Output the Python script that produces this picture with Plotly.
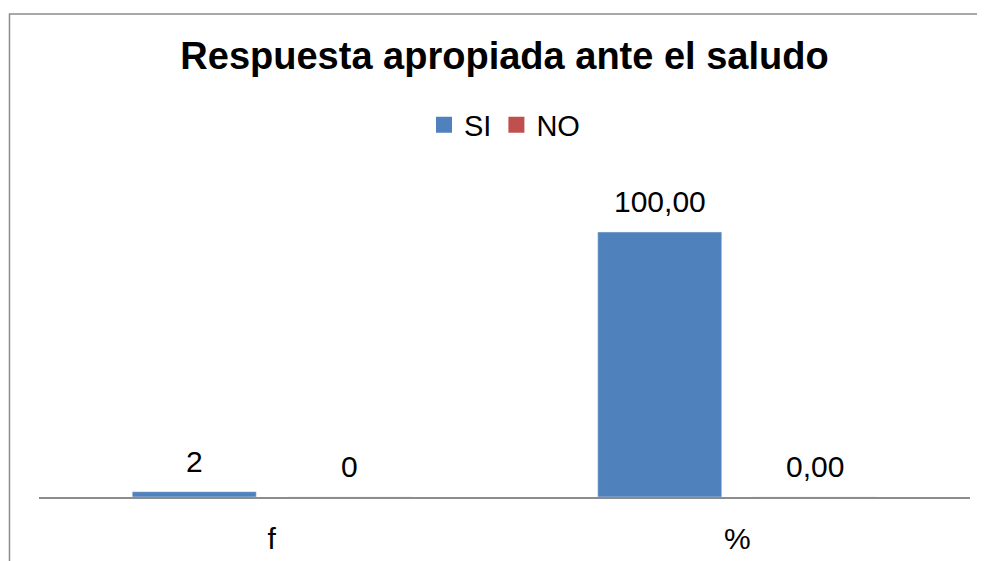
import plotly.graph_objects as go

categories = ["f", "%"]
si_values = [2, 100]
no_values = [0, 0]
si_labels = ["2", "100,00"]
no_labels = ["0", "0,00"]

SI_COLOR = "#4F81BD"
NO_COLOR = "#C0504D"
FONT = "Liberation Sans, Arial, sans-serif"

fig = go.Figure()
fig.add_trace(go.Bar(name="SI", x=categories, y=si_values, marker_color=SI_COLOR,
                     showlegend=False, hoverinfo="x+y"))
fig.add_trace(go.Bar(name="NO", x=categories, y=no_values, marker_color=NO_COLOR,
                     showlegend=False, hoverinfo="x+y"))

# legend entries with bigger square swatches, like the original
for name, color in [("SI", SI_COLOR), ("NO", NO_COLOR)]:
    fig.add_trace(go.Scatter(x=[None], y=[None], name=name, mode="markers",
                             marker={"symbol": "square", "size": 17, "color": color}))

# value labels above each bar, shifted to the bar of its group
for values, labels, shift in [(si_values, si_labels, -77.5), (no_values, no_labels, 77.5)]:
    for cat, v, lab in zip(categories, values, labels):
        fig.add_annotation(x=cat, y=v, text=lab, showarrow=False, xshift=shift,
                           yanchor="bottom", yshift=12,
                           font={"size": 30, "family": FONT, "color": "black"})

# outer chart border (cut by the picture on the right and bottom)
fig.add_shape(type="rect", xref="paper", yref="paper",
              x0=-0.0317, x1=1.0215, y0=-0.25, y1=1.519,
              line={"color": "#8C8C8C", "width": 1.5}, layer="below")

# the page body adds an 8px offset, so the figure is 8px smaller
fig.update_layout(
    width=977, height=553,
    margin={"l": 31, "r": 15, "t": 171, "b": 64, "autoexpand": False},
    plot_bgcolor="white", paper_bgcolor="white",
    barmode="group", bargap=0.334, bargroupgap=0.2,
    font={"family": FONT, "color": "black"},
    title={"text": "<b>Respuesta apropiada ante el saludo</b>",
           "x": 0.5, "xref": "paper", "xanchor": "center",
           "y": 1 - 48 / 553, "yref": "container", "yanchor": "middle",
           "font": {"size": 38, "family": FONT, "color": "black"}},
    legend={"orientation": "h", "x": 0.5, "xanchor": "center",
            "y": 1.17, "yanchor": "middle", "font": {"size": 29},
            "itemwidth": 30, "traceorder": "normal"},
    showlegend=True,
)
fig.update_xaxes(showline=True, linecolor="#8C8C8C", linewidth=1.5, automargin=False,
                 showgrid=False, ticks="", tickfont={"size": 30}, ticklabelstandoff=14)
fig.update_yaxes(range=[0, 120], visible=False, showgrid=False, zeroline=False)

fig.write_html("out.html")
